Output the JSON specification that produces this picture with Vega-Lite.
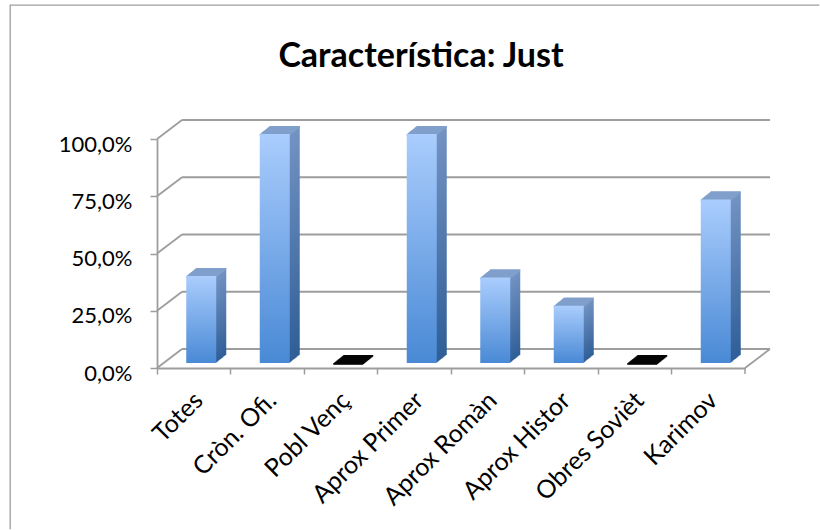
{
  "$schema": "https://vega.github.io/schema/vega-lite/v6.json",
  "usermeta": {"embedOptions": {"actions": false}},
  "width": 810,
  "height": 525,
  "autosize": {"type": "none"},
  "padding": {"left": 10, "top": 5, "right": 0, "bottom": 0},
  "background": "white",
  "title": {
    "text": "Característica: Just",
    "font": "Lato",
    "fontSize": 34,
    "fontWeight": "bold",
    "color": "#000000",
    "anchor": "middle",
    "frame": "group",
    "baseline": "alphabetic",
    "offset": -62,
    "dy": 34,
    "dx": 6
  },
  "config": {
    "view": {"stroke": "#9d9d9d", "strokeWidth": 1.3, "strokeDash": [809, 1337, 524, 0]}
  },
  "datasets": {
    "scores": [
      {"cat": "Totes", "v": 0.38},
      {"cat": "Cròn. Ofi.", "v": 1.0},
      {"cat": "Pobl Venç", "v": 0},
      {"cat": "Aprox Primer", "v": 1.0},
      {"cat": "Aprox Romàn", "v": 0.373},
      {"cat": "Aprox Histor", "v": 0.25},
      {"cat": "Obres Sovièt", "v": 0},
      {"cat": "Karimov", "v": 0.714}
    ],
    "ticks": [
      {"t": 0}, {"t": 0.25}, {"t": 0.5}, {"t": 0.75}, {"t": 1}
    ]
  },
  "data": {"name": "scores"},
  "layer": [
    {
      "data": {"name": "ticks"},
      "mark": {"type": "rule", "stroke": "#9d9d9d", "strokeWidth": 1.8, "xOffset": 25, "x2Offset": 25, "yOffset": -19, "y2Offset": -19},
      "encoding": {
        "x": {"datum": "Totes", "type": "nominal", "bandPosition": 0},
        "x2": {"datum": "Karimov", "bandPosition": 1},
        "y": {"field": "t", "type": "quantitative"},
        "y2": {"field": "t"}
      }
    },
    {
      "data": {"name": "ticks"},
      "mark": {"type": "rule", "stroke": "#9d9d9d", "strokeWidth": 1.8, "x2Offset": 25, "y2Offset": -19},
      "encoding": {
        "x": {"datum": "Totes", "type": "nominal", "bandPosition": 0},
        "x2": {"datum": "Totes", "bandPosition": 0},
        "y": {"field": "t", "type": "quantitative"},
        "y2": {"field": "t"}
      }
    },
    {
      "data": {"name": "ticks"},
      "transform": [{"filter": "datum.t === 0"}],
      "mark": {"type": "rule", "stroke": "#9d9d9d", "strokeWidth": 1.8, "x2Offset": 25, "y2Offset": -19},
      "encoding": {
        "x": {"datum": "Karimov", "type": "nominal", "bandPosition": 1},
        "x2": {"datum": "Karimov", "bandPosition": 1},
        "y": {"field": "t", "type": "quantitative"},
        "y2": {"field": "t"}
      }
    },
    {
      "data": {"name": "ticks"},
      "transform": [{"filter": "datum.t === 0"}],
      "mark": {"type": "rule", "stroke": "#9d9d9d", "strokeWidth": 1.5, "y2Offset": 6},
      "encoding": {
        "x": {"datum": "Karimov", "type": "nominal", "bandPosition": 1},
        "x2": {"datum": "Karimov", "bandPosition": 1},
        "y": {"field": "t", "type": "quantitative"},
        "y2": {"field": "t"}
      }
    },
    {"mark": {"type": "bar", "width": 30, "xOffset": 17.5, "yOffset": -13, "y2Offset": -13, "fill": {"gradient": "linear", "x1": 0, "y1": 0, "x2": 0, "y2": 1, "stops": [{"offset": 0, "color": "#7393c3"}, {"offset": 1, "color": "#2f5e97"}]}},
     "encoding": {"x": {"field": "cat", "type": "nominal"}, "y": {"field": "v", "type": "quantitative"}, "y2": {"datum": 0}}},
    {"mark": {"type": "bar", "width": 30, "xOffset": 16.5, "yOffset": -12.2, "y2Offset": -12.2, "fill": {"gradient": "linear", "x1": 0, "y1": 0, "x2": 0, "y2": 1, "stops": [{"offset": 0, "color": "#7393c3"}, {"offset": 1, "color": "#2f5e97"}]}},
     "encoding": {"x": {"field": "cat", "type": "nominal"}, "y": {"field": "v", "type": "quantitative"}, "y2": {"datum": 0}}},
    {"mark": {"type": "bar", "width": 30, "xOffset": 15.5, "yOffset": -11.4, "y2Offset": -11.4, "fill": {"gradient": "linear", "x1": 0, "y1": 0, "x2": 0, "y2": 1, "stops": [{"offset": 0, "color": "#7393c3"}, {"offset": 1, "color": "#2f5e97"}]}},
     "encoding": {"x": {"field": "cat", "type": "nominal"}, "y": {"field": "v", "type": "quantitative"}, "y2": {"datum": 0}}},
    {"mark": {"type": "bar", "width": 30, "xOffset": 14.5, "yOffset": -10.6, "y2Offset": -10.6, "fill": {"gradient": "linear", "x1": 0, "y1": 0, "x2": 0, "y2": 1, "stops": [{"offset": 0, "color": "#7393c3"}, {"offset": 1, "color": "#2f5e97"}]}},
     "encoding": {"x": {"field": "cat", "type": "nominal"}, "y": {"field": "v", "type": "quantitative"}, "y2": {"datum": 0}}},
    {"mark": {"type": "bar", "width": 30, "xOffset": 13.5, "yOffset": -9.8, "y2Offset": -9.8, "fill": {"gradient": "linear", "x1": 0, "y1": 0, "x2": 0, "y2": 1, "stops": [{"offset": 0, "color": "#7393c3"}, {"offset": 1, "color": "#2f5e97"}]}},
     "encoding": {"x": {"field": "cat", "type": "nominal"}, "y": {"field": "v", "type": "quantitative"}, "y2": {"datum": 0}}},
    {"mark": {"type": "bar", "width": 30, "xOffset": 12.5, "yOffset": -9, "y2Offset": -9, "fill": {"gradient": "linear", "x1": 0, "y1": 0, "x2": 0, "y2": 1, "stops": [{"offset": 0, "color": "#7393c3"}, {"offset": 1, "color": "#2f5e97"}]}},
     "encoding": {"x": {"field": "cat", "type": "nominal"}, "y": {"field": "v", "type": "quantitative"}, "y2": {"datum": 0}}},
    {"mark": {"type": "bar", "width": 30, "xOffset": 11.5, "yOffset": -8.2, "y2Offset": -8.2, "fill": {"gradient": "linear", "x1": 0, "y1": 0, "x2": 0, "y2": 1, "stops": [{"offset": 0, "color": "#7393c3"}, {"offset": 1, "color": "#2f5e97"}]}},
     "encoding": {"x": {"field": "cat", "type": "nominal"}, "y": {"field": "v", "type": "quantitative"}, "y2": {"datum": 0}}},
    {"mark": {"type": "bar", "width": 30, "xOffset": 10.5, "yOffset": -7.4, "y2Offset": -7.4, "fill": {"gradient": "linear", "x1": 0, "y1": 0, "x2": 0, "y2": 1, "stops": [{"offset": 0, "color": "#7393c3"}, {"offset": 1, "color": "#2f5e97"}]}},
     "encoding": {"x": {"field": "cat", "type": "nominal"}, "y": {"field": "v", "type": "quantitative"}, "y2": {"datum": 0}}},
    {"mark": {"type": "bar", "width": 30, "xOffset": 9.5, "yOffset": -6.6, "y2Offset": -6.6, "fill": {"gradient": "linear", "x1": 0, "y1": 0, "x2": 0, "y2": 1, "stops": [{"offset": 0, "color": "#7393c3"}, {"offset": 1, "color": "#2f5e97"}]}},
     "encoding": {"x": {"field": "cat", "type": "nominal"}, "y": {"field": "v", "type": "quantitative"}, "y2": {"datum": 0}}},
    {"mark": {"type": "bar", "width": 30, "xOffset": 8.5, "yOffset": -5.8, "y2Offset": -5.8, "fill": {"gradient": "linear", "x1": 0, "y1": 0, "x2": 0, "y2": 1, "stops": [{"offset": 0, "color": "#7393c3"}, {"offset": 1, "color": "#2f5e97"}]}},
     "encoding": {"x": {"field": "cat", "type": "nominal"}, "y": {"field": "v", "type": "quantitative"}, "y2": {"datum": 0}}},
    {"mark": {"type": "bar", "width": 30, "xOffset": 7.5, "yOffset": -5, "y2Offset": -3.2},
     "encoding": {"x": {"field": "cat", "type": "nominal"}, "y": {"field": "v", "type": "quantitative"}, "y2": {"field": "v"}, "fill": {"condition": {"test": "datum.v === 0", "value": "#050505"}, "value": "#809fcb"}}},
    {"mark": {"type": "bar", "width": 30, "xOffset": 8.5, "yOffset": -5.8, "y2Offset": -4},
     "encoding": {"x": {"field": "cat", "type": "nominal"}, "y": {"field": "v", "type": "quantitative"}, "y2": {"field": "v"}, "fill": {"condition": {"test": "datum.v === 0", "value": "#050505"}, "value": "#809fcb"}}},
    {"mark": {"type": "bar", "width": 30, "xOffset": 9.5, "yOffset": -6.6, "y2Offset": -4.8},
     "encoding": {"x": {"field": "cat", "type": "nominal"}, "y": {"field": "v", "type": "quantitative"}, "y2": {"field": "v"}, "fill": {"condition": {"test": "datum.v === 0", "value": "#050505"}, "value": "#809fcb"}}},
    {"mark": {"type": "bar", "width": 30, "xOffset": 10.5, "yOffset": -7.4, "y2Offset": -5.6},
     "encoding": {"x": {"field": "cat", "type": "nominal"}, "y": {"field": "v", "type": "quantitative"}, "y2": {"field": "v"}, "fill": {"condition": {"test": "datum.v === 0", "value": "#050505"}, "value": "#809fcb"}}},
    {"mark": {"type": "bar", "width": 30, "xOffset": 11.5, "yOffset": -8.2, "y2Offset": -6.4},
     "encoding": {"x": {"field": "cat", "type": "nominal"}, "y": {"field": "v", "type": "quantitative"}, "y2": {"field": "v"}, "fill": {"condition": {"test": "datum.v === 0", "value": "#050505"}, "value": "#809fcb"}}},
    {"mark": {"type": "bar", "width": 30, "xOffset": 12.5, "yOffset": -9, "y2Offset": -7.2},
     "encoding": {"x": {"field": "cat", "type": "nominal"}, "y": {"field": "v", "type": "quantitative"}, "y2": {"field": "v"}, "fill": {"condition": {"test": "datum.v === 0", "value": "#050505"}, "value": "#809fcb"}}},
    {"mark": {"type": "bar", "width": 30, "xOffset": 13.5, "yOffset": -9.8, "y2Offset": -8},
     "encoding": {"x": {"field": "cat", "type": "nominal"}, "y": {"field": "v", "type": "quantitative"}, "y2": {"field": "v"}, "fill": {"condition": {"test": "datum.v === 0", "value": "#050505"}, "value": "#809fcb"}}},
    {"mark": {"type": "bar", "width": 30, "xOffset": 14.5, "yOffset": -10.6, "y2Offset": -8.8},
     "encoding": {"x": {"field": "cat", "type": "nominal"}, "y": {"field": "v", "type": "quantitative"}, "y2": {"field": "v"}, "fill": {"condition": {"test": "datum.v === 0", "value": "#050505"}, "value": "#809fcb"}}},
    {"mark": {"type": "bar", "width": 30, "xOffset": 15.5, "yOffset": -11.4, "y2Offset": -9.6},
     "encoding": {"x": {"field": "cat", "type": "nominal"}, "y": {"field": "v", "type": "quantitative"}, "y2": {"field": "v"}, "fill": {"condition": {"test": "datum.v === 0", "value": "#050505"}, "value": "#809fcb"}}},
    {"mark": {"type": "bar", "width": 30, "xOffset": 16.5, "yOffset": -12.2, "y2Offset": -10.4},
     "encoding": {"x": {"field": "cat", "type": "nominal"}, "y": {"field": "v", "type": "quantitative"}, "y2": {"field": "v"}, "fill": {"condition": {"test": "datum.v === 0", "value": "#050505"}, "value": "#809fcb"}}},
    {"mark": {"type": "bar", "width": 30, "xOffset": 17.5, "yOffset": -13, "y2Offset": -11.2},
     "encoding": {"x": {"field": "cat", "type": "nominal"}, "y": {"field": "v", "type": "quantitative"}, "y2": {"field": "v"}, "fill": {"condition": {"test": "datum.v === 0", "value": "#050505"}, "value": "#809fcb"}}},
    {
      "mark": {"type": "bar", "width": 30, "xOffset": 7.5, "yOffset": -5, "y2Offset": -5, "fill": {"gradient": "linear", "x1": 0, "y1": 0, "x2": 0, "y2": 1, "stops": [{"offset": 0, "color": "#aacdfd"}, {"offset": 1, "color": "#4989d5"}]}},
      "encoding": {
        "x": {
          "field": "cat",
          "type": "nominal",
          "sort": null,
          "scale": {"domain": ["Totes", "Cròn. Ofi.", "Pobl Venç", "Aprox Primer", "Aprox Romàn", "Aprox Histor", "Obres Sovièt", "Karimov"], "range": [147, 735], "paddingInner": 0, "paddingOuter": 0},
          "axis": {
            "orient": "bottom",
            "offset": -162,
            "title": null,
            "bandPosition": 0,
            "domainColor": "#9d9d9d",
            "domainWidth": 1.8,
            "tickColor": "#9d9d9d",
            "tickWidth": 1.5,
            "tickSize": 6,
            "labelAngle": -45,
            "labelAlign": "right",
            "labelBaseline": "middle",
            "labelFont": "Lato",
            "labelFontSize": 25,
            "labelColor": "#000000",
            "labelPadding": 22,
            "labelOffset": 5,
            "labelOverlap": false,
            "labelBound": false,
            "labelFlush": false
          }
        },
        "y": {
          "field": "v",
          "type": "quantitative",
          "scale": {"domain": [0, 1], "range": [363, 134], "nice": false},
          "axis": {
            "orient": "left",
            "offset": -147,
            "title": null,
            "grid": false,
            "values": [0, 0.25, 0.5, 0.75, 1],
            "labelExpr": "replace(format(datum.value, '.1%'), '.', ',')",
            "domainColor": "#9d9d9d",
            "domainWidth": 1.8,
            "tickColor": "#9d9d9d",
            "tickWidth": 1.5,
            "tickSize": 7,
            "labelPadding": 18,
            "labelFont": "Lato",
            "labelFontSize": 22,
            "labelColor": "#000000",
            "labelOffset": 5,
            "labelBaseline": "middle"
          }
        },
        "y2": {"datum": 0}
      }
    }
  ]
}
